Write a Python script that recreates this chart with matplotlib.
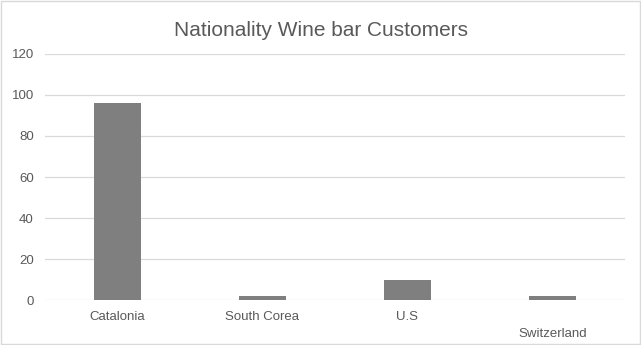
import matplotlib.pyplot as plt

# ── data ────────────────────────────────────────────────────────────────
countries = ['Catalonia', 'South Corea', 'U.S', 'Switzerland']
customers = [96, 2, 10, 2]
y_ticks = [0, 20, 40, 60, 80, 100, 120]

plt.rcParams['font.family'] = ['Liberation Sans', 'DejaVu Sans']

fig = plt.figure(figsize=(6.41, 3.45), dpi=100)
ax = fig.add_axes([0.0702, 0.1304, 0.9048, 0.7131])

x = range(len(countries))
ax.bar(x, customers, width=0.32, color='#7f7f7f', zorder=3)

ax.set_xlim(-0.5, len(countries) - 0.5)
ax.set_ylim(0, 120)
ax.set_yticks(y_ticks)
ax.set_xticks(list(x))
ax.set_xticklabels(countries)
ax.grid(axis='y', color='#d9d9d9', linewidth=0.9, zorder=0)
ax.tick_params(axis='both', length=0, labelsize=9, colors='#595959')
ax.tick_params(axis='x', pad=8, labelsize=9.5)
ax.tick_params(axis='y', pad=8, labelsize=9.5)
# the last label sits lower in the original
ax.xaxis.get_major_ticks()[3].set_pad(20)
for s in ax.spines.values():
    s.set_visible(False)

fig.text(0.5, 0.913, 'Nationality Wine bar Customers', ha='center', va='center',
         fontsize=15, color='#595959')

# light border around the chart
fig.patches.append(plt.Rectangle((0.002, 0.003), 0.996, 0.994, transform=fig.transFigure,
                                 fill=False, edgecolor='#d9d9d9', linewidth=1))

fig.savefig('out.png', dpi=100)
